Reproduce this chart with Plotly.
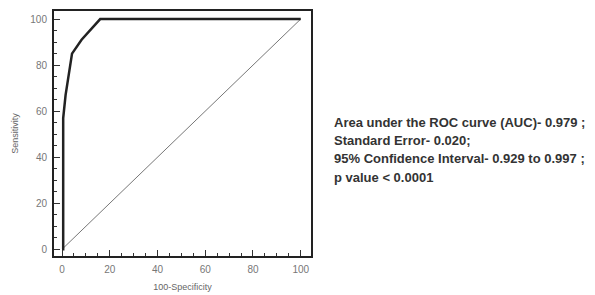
import plotly.graph_objects as go

roc_x = [0, 0.5, 0.5, 1.5, 4.2, 8.2, 16, 100]
roc_y = [0, 0, 57, 67, 85, 91, 100, 100]
ref_x = [0, 100]
ref_y = [0, 100]
tick_vals = [0, 20, 40, 60, 80, 100]
stats_lines = [
    "Area under the ROC curve (AUC)- 0.979 ;",
    "Standard Error- 0.020;",
    "95% Confidence Interval- 0.929 to 0.997 ;",
    "p value < 0.0001",
]

fig = go.Figure()
fig.add_trace(go.Scatter(x=ref_x, y=ref_y, mode="lines",
                         line=dict(color="#777777", width=1), showlegend=False))
fig.add_trace(go.Scatter(x=roc_x, y=roc_y, mode="lines",
                         line=dict(color="#222222", width=2.5), showlegend=False))

axis_common = dict(
    showline=True, linewidth=2, linecolor="#222222", mirror=True,
    showgrid=False, zeroline=False, automargin=False,
    ticks="inside", ticklen=6, tickwidth=1, tickcolor="#333333",
    tickvals=tick_vals,
    minor=dict(ticks="inside", ticklen=3, dtick=5, tickcolor="#333333", tickwidth=1, showgrid=False),
    tickfont=dict(family="Liberation Sans, Arial", size=10, color="#777777"),
    ticklabelstandoff=3,
)

fig.update_xaxes(range=[-3.35, 104.3], title=dict(text="100-Specificity", standoff=10,
                 font=dict(family="Liberation Sans, Arial", size=9, color="#666666")), **axis_common)
fig.update_yaxes(range=[-2.9, 103.5], title=dict(text="Sensitivity", standoff=10,
                 font=dict(family="Liberation Sans, Arial", size=9, color="#666666")), **axis_common)

ys = [122, 140, 158, 177]
for txt, yp in zip(stats_lines, ys):
    fig.add_annotation(text="<b>" + txt + "</b>", xref="paper", yref="paper",
                       x=(332 - 54) / 257, y=(256 - yp) / 245,
                       xanchor="left", yanchor="middle", showarrow=False,
                       font=dict(family="Liberation Sans, Arial", size=13, color="#333333"))

fig.update_layout(width=587, height=287, margin=dict(l=46, r=284, t=3, b=39),
                  plot_bgcolor="white", paper_bgcolor="white")
fig.write_html("out.html")
